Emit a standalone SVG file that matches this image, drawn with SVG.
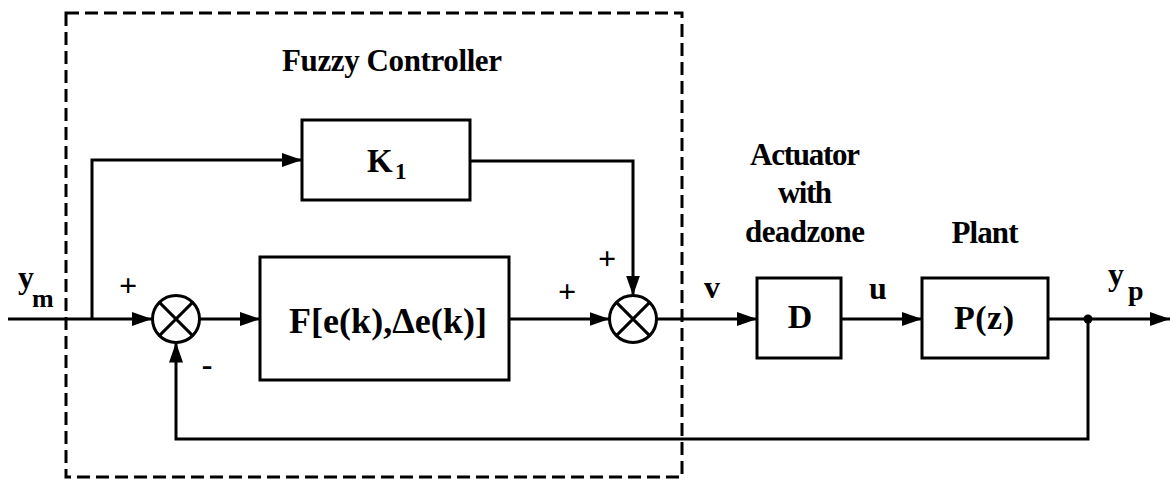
<svg xmlns="http://www.w3.org/2000/svg" width="1170" height="479" viewBox="0 0 1170 479">
<style>
  .blk { fill: none; stroke: #000; stroke-width: 3; }
  .ln { fill: none; stroke: #000; stroke-width: 3; }
  .dash { fill: none; stroke: #000; stroke-width: 3; stroke-dasharray: 13 6; }
</style>
<defs>
  <marker id="arr" markerUnits="userSpaceOnUse" markerWidth="20" markerHeight="14" refX="20" refY="7" orient="auto">
    <path d="M0,0 L20,7 L0,14 z" fill="#000"/>
  </marker>
</defs>
<rect fill="#fff" x="0" y="0" width="1170" height="479"/>
<g id="fuzzy-controller">
  <rect class="dash" x="66" y="13" width="616" height="464"/>
  <text x="392" y="71" font-size="31" textLength="220" text-anchor="middle" font-family="Liberation Serif" font-weight="bold">Fuzzy Controller</text>
</g>

<g id="k1">
  <rect class="blk" x="302" y="120" width="168" height="80"/>
  <text x="367" y="172" font-size="33" textLength="25" font-family="Liberation Serif" font-weight="bold">K</text>
  <text x="395" y="179" font-size="23" font-family="Liberation Serif" font-weight="bold">1</text>
</g>

<g id="sum1">
  <circle class="blk" cx="176" cy="319" r="23.5"/>
  <path class="ln" d="M159.4,302.4 L192.6,335.6 M192.6,302.4 L159.4,335.6"/>
</g>

<g id="fuzzy">
  <rect class="blk" x="260" y="257" width="249" height="123"/>
  <text x="388" y="333" font-size="36" textLength="198" text-anchor="middle" font-family="Liberation Serif" font-weight="bold">F[e(k),Δe(k)]</text>
</g>

<g id="sum2">
  <circle class="blk" cx="633" cy="319" r="23.5"/>
  <path class="ln" d="M616.4,302.4 L649.6,335.6 M649.6,302.4 L616.4,335.6"/>
</g>

<g id="actuator" font-family="Liberation Serif" font-weight="bold" text-anchor="middle">
  <rect class="blk" x="757" y="278" width="84" height="80"/>
  <text x="800" y="328" font-size="34">D</text>
  <text x="805" y="165" font-size="31" textLength="110">Actuator</text>
  <text x="805" y="203" font-size="31" textLength="54">with</text>
  <text x="805" y="242" font-size="31" textLength="120">deadzone</text>
</g>

<g id="plant" font-family="Liberation Serif" font-weight="bold" text-anchor="middle">
  <rect class="blk" x="922" y="278" width="126" height="80"/>
  <text x="984" y="329" font-size="34" textLength="60">P(z)</text>
  <text x="985" y="243" font-size="31" textLength="67">Plant</text>
</g>

<g id="connectors">
  <path class="ln" d="M8,319 H152" marker-end="url(#arr)"/>
  <path class="ln" d="M92,319 V160 H302" marker-end="url(#arr)"/>
  <path class="ln" d="M470,161 H633 V295.5" marker-end="url(#arr)"/>
  <path class="ln" d="M200,319 H260" marker-end="url(#arr)"/>
  <path class="ln" d="M509,319 H609.5" marker-end="url(#arr)"/>
  <path class="ln" d="M657,319 H757" marker-end="url(#arr)"/>
  <path class="ln" d="M841,319 H922" marker-end="url(#arr)"/>
  <path class="ln" d="M1048,319 H1170" marker-end="url(#arr)"/>
  <path class="ln" d="M1088,319 V439 H176 V342.5" marker-end="url(#arr)"/>
  <circle cx="1088" cy="319" r="4.5" fill="#000"/>
</g>

<g id="labels" font-family="Liberation Serif" font-weight="bold">
  <text x="18" y="288" font-size="32">y</text>
  <text x="32" y="307" font-size="26" textLength="25">m</text>
  <text x="128" y="296" font-size="32" text-anchor="middle">+</text>
  <text x="207" y="375" font-size="32" text-anchor="middle">-</text>
  <text x="567" y="302" font-size="32" text-anchor="middle">+</text>
  <text x="607" y="269" font-size="32" text-anchor="middle">+</text>
  <text x="712" y="298" font-size="32" text-anchor="middle">v</text>
  <text x="878" y="299" font-size="32" text-anchor="middle">u</text>
  <text x="1108" y="285" font-size="32">y</text>
  <text x="1128" y="300" font-size="28">p</text>
</g>
</svg>
